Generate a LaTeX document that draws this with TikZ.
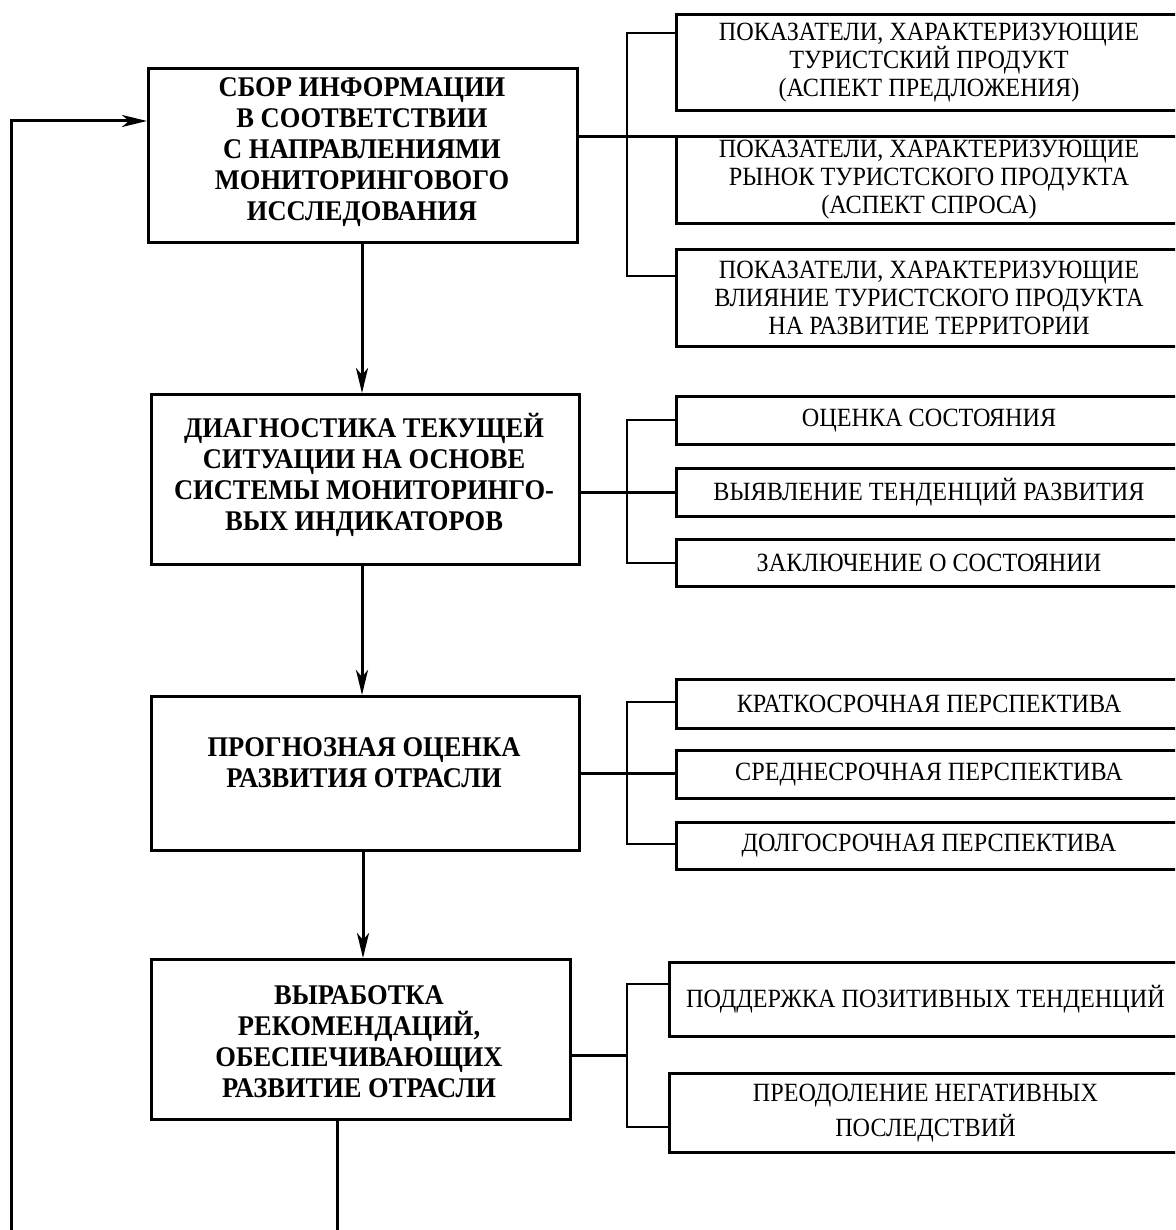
\documentclass[tikz,border=0pt]{standalone}
\usepackage{fontspec}
\setmainfont{Liberation Serif}[FakeStretch=0.93]
\newfontfamily\rfont{Liberation Serif}[FakeStretch=0.92]
\usetikzlibrary{arrows.meta}
\begin{document}
\begin{tikzpicture}[x=1pt,y=-1pt,
  mainbox/.style={draw, line width=3pt, rectangle, anchor=north west, inner sep=0pt},
  maintext/.style={align=center, inner sep=0pt, font=\fontsize{28.5}{31}\selectfont\bfseries},
  rbox/.style={draw, line width=3pt, rectangle, anchor=north west, inner sep=0pt, minimum width=505pt,
    align=center, font=\rfont\fontsize{26.3}{28}\selectfont},
  conn/.style={line width=3pt},
  brk/.style={line width=2.6pt},
  arr/.style={line width=3pt, -{Stealth[length=25pt,width=12pt,inset=7pt]}}
]
\useasboundingbox (0,0) rectangle (1175,1230);
\clip (0,0) rectangle (1175,1230);
\fill[white] (0,0) rectangle (1175,1230);

% main boxes
\node[mainbox, minimum width=429pt, minimum height=174pt] (b1) at (147,67) {};
\node[mainbox, minimum width=428pt, minimum height=170pt] (b2) at (150,393) {};
\node[mainbox, minimum width=428pt, minimum height=154pt] (b3) at (150,695) {};
\node[mainbox, minimum width=419pt, minimum height=160pt] (b4) at (150,958) {};

\node[maintext] (b1t) at (362,152) {СБОР ИНФОРМАЦИИ\\В СООТВЕТСТВИИ\\С НАПРАВЛЕНИЯМИ\\МОНИТОРИНГОВОГО\\ИССЛЕДОВАНИЯ};
\node[maintext] (b2t) at (364,475) {ДИАГНОСТИКА ТЕКУЩЕЙ\\СИТУАЦИИ НА ОСНОВЕ\\СИСТЕМЫ МОНИТОРИНГО-\\ВЫХ ИНДИКАТОРОВ};
\node[maintext] (b3t) at (364,763) {ПРОГНОЗНАЯ ОЦЕНКА\\РАЗВИТИЯ ОТРАСЛИ};
\node[maintext] (b4t) at (359,1042) {ВЫРАБОТКА\\РЕКОМЕНДАЦИЙ,\\ОБЕСПЕЧИВАЮЩИХ\\РАЗВИТИЕ ОТРАСЛИ};

% right boxes, group 1
\node[rbox, minimum height=96pt] (r11) at (675,13) {ПОКАЗАТЕЛИ, ХАРАКТЕРИЗУЮЩИЕ\\ТУРИСТСКИЙ ПРОДУКТ\\(АСПЕКТ ПРЕДЛОЖЕНИЯ)};
\node[rbox, minimum height=87pt] (r12) at (675,135) {ПОКАЗАТЕЛИ, ХАРАКТЕРИЗУЮЩИЕ\\РЫНОК ТУРИСТСКОГО ПРОДУКТА\\(АСПЕКТ СПРОСА)};
\node[rbox, minimum height=97pt] (r13) at (675,248) {ПОКАЗАТЕЛИ, ХАРАКТЕРИЗУЮЩИЕ\\ВЛИЯНИЕ ТУРИСТСКОГО ПРОДУКТА\\НА РАЗВИТИЕ ТЕРРИТОРИИ};
% group 2
\node[rbox, minimum height=48pt] (r21) at (675,395) {ОЦЕНКА СОСТОЯНИЯ};
\node[rbox, minimum height=48pt] (r22) at (675,467) {ВЫЯВЛЕНИЕ ТЕНДЕНЦИЙ РАЗВИТИЯ};
\node[rbox, minimum height=47pt] (r23) at (675,538) {ЗАКЛЮЧЕНИЕ О СОСТОЯНИИ};
% group 3
\node[rbox, minimum height=49pt] (r31) at (675,678) {КРАТКОСРОЧНАЯ ПЕРСПЕКТИВА};
\node[rbox, minimum height=48pt] (r32) at (675,749) {СРЕДНЕСРОЧНАЯ ПЕРСПЕКТИВА};
\node[rbox, minimum height=47pt] (r33) at (675,821) {ДОЛГОСРОЧНАЯ ПЕРСПЕКТИВА};
% group 4
\node[rbox, minimum width=512pt, minimum height=74pt] (r41) at (668,961) {ПОДДЕРЖКА ПОЗИТИВНЫХ ТЕНДЕНЦИЙ};
\node[rbox, minimum width=512pt, minimum height=79pt, font=\rfont\fontsize{26.3}{35}\selectfont] (r42) at (668,1072) {ПРЕОДОЛЕНИЕ НЕГАТИВНЫХ\\ПОСЛЕДСТВИЙ};

% vertical arrows
\draw[arr] (b1.south -| 362,0) -- (b2.north -| 362,0);
\draw[arr] (b2.south -| 362,0) -- (b3.north -| 362,0);
\draw[arr] (b3.south -| 363,0) -- (b4.north -| 363,0);

% feedback loop
\coordinate (fa) at (337,1245);
\coordinate (fb) at (11,1245);
\coordinate (fc) at (11,121);
\draw[arr] (b4.south -| fa) -- (fa) -- (fb) -- (fc) -- (b1.west |- fc);

% group 1 brackets
\coordinate (j1) at (627,137);
\coordinate (k1t) at (627,33);
\coordinate (k1b) at (627,276);
\draw[conn] (b1.east |- j1) -- (r12.west |- j1);
\draw[brk] (r11.west |- k1t) -- (k1t) -- (k1b) -- (r13.west |- k1b);

% group 2
\coordinate (j2) at (627,492);
\coordinate (k2t) at (627,420);
\coordinate (k2b) at (627,563);
\draw[conn] (b2.east |- j2) -- (r22.west |- j2);
\draw[brk] (r21.west |- k2t) -- (k2t) -- (k2b) -- (r23.west |- k2b);

% group 3
\coordinate (j3) at (627,773);
\coordinate (k3t) at (627,702);
\coordinate (k3b) at (627,844);
\draw[conn] (b3.east |- j3) -- (r32.west |- j3);
\draw[brk] (r31.west |- k3t) -- (k3t) -- (k3b) -- (r33.west |- k3b);

% group 4
\coordinate (j4) at (627,1055);
\coordinate (k4t) at (627,984);
\coordinate (k4b) at (627,1127);
\draw[conn] (b4.east |- j4) -- (j4);
\draw[brk] (r41.west |- k4t) -- (k4t) -- (k4b) -- (r42.west |- k4b);
\end{tikzpicture}
\end{document}
